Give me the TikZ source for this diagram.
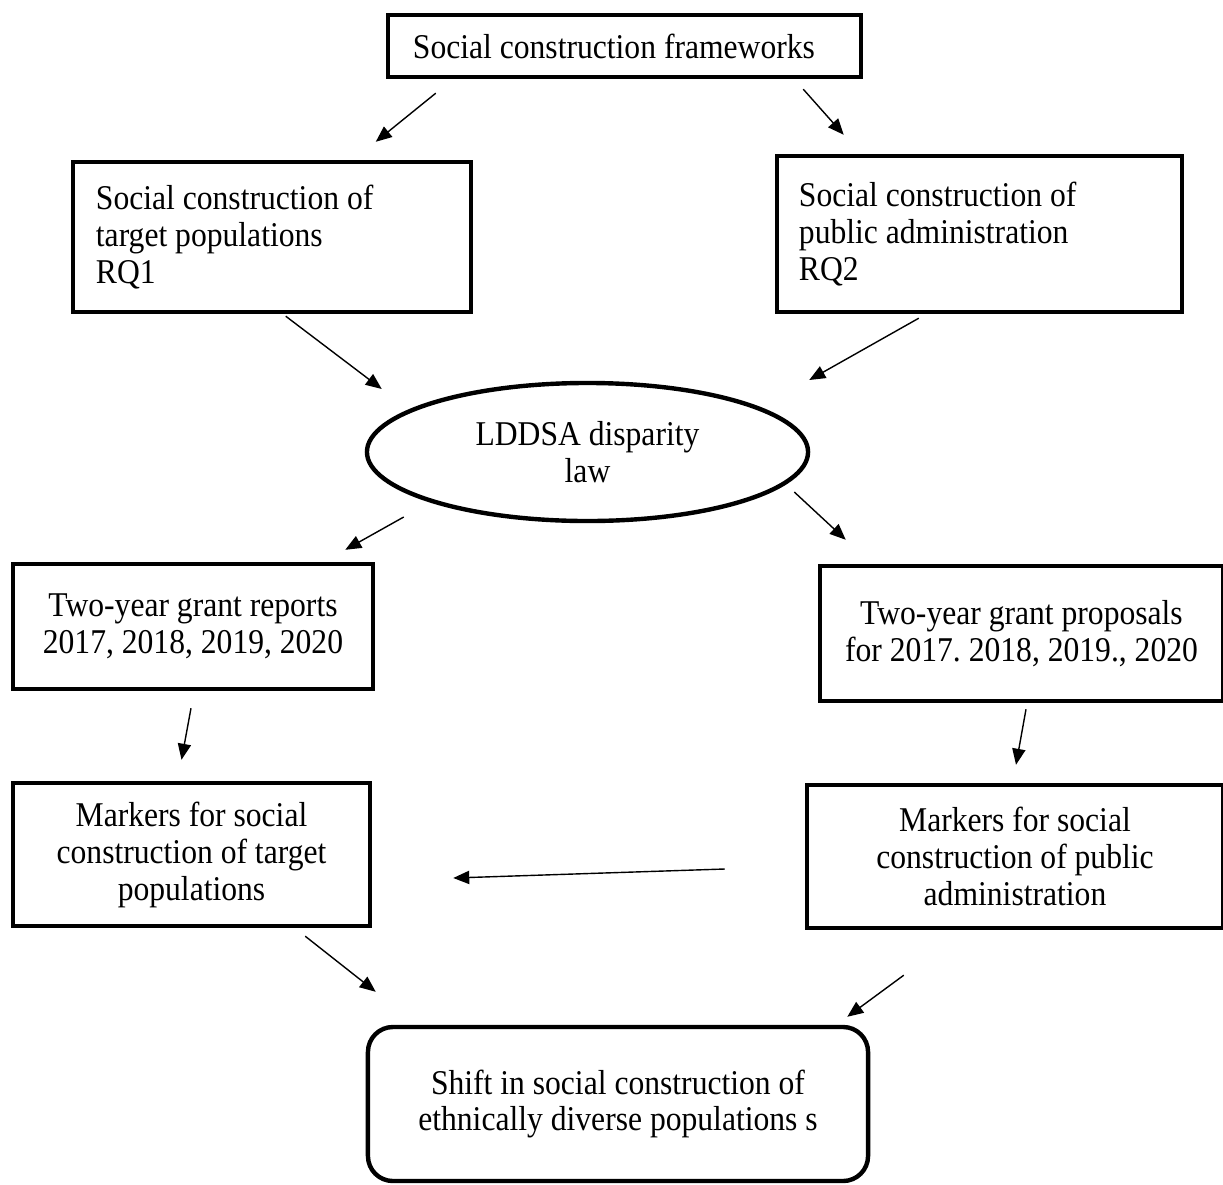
\documentclass[tikz,border=0pt]{standalone}
\usepackage{fontspec}
\setmainfont[FakeStretch=0.91]{Liberation Serif}
\usetikzlibrary{arrows.meta,shapes.geometric}
\newcommand{\labelfont}{\fontsize{24.7pt}{26.3pt}\selectfont}
\frenchspacing

\begin{document}
\begin{tikzpicture}[x=0.025cm, y=-0.025cm,
  box/.style={draw, line width=0.11cm, rectangle, inner sep=0pt, font=\labelfont},
  flow/.style={-{Triangle[length=0.4cm, width=0.33cm]}, line width=0.035cm}]
\useasboundingbox (0,0) rectangle (1223,1184);

% Framework at the top
\node[box, minimum width=11.825cm, minimum height=1.55cm, text width=10.575cm, align=flush left] (frame) at (624.5,46) {Social construction frameworks};

% Research questions
\node[box, minimum width=9.95cm, minimum height=3.75cm, text width=8.8cm, align=flush left] (rq1) at (272,237) {Social construction of\\target populations\\RQ1};
\node[box, minimum width=10.125cm, minimum height=3.9cm, text width=9.025cm, align=flush left] (rq2) at (979.5,234) {Social construction of\\public administration\\RQ2};

% The law
\node[draw, ellipse, line width=0.11cm, inner sep=0pt, minimum width=11.025cm, minimum height=3.45cm, align=center, font=\labelfont] (law) at (587.5,452) {LDDSA disparity\\law};

% Grant documents
\node[box, minimum width=9cm, minimum height=3.125cm, align=center] (reports) at (193,626.5) {Two-year grant reports\\2017, 2018, 2019, 2020};
\node[box, minimum width=10.075cm, minimum height=3.375cm, align=center] (proposals) at (1021.5,633.5) {Two-year grant proposals\\for 2017. 2018, 2019., 2020};

% Markers
\node[box, minimum width=8.925cm, minimum height=3.575cm, align=center] (markersL) at (191.5,854.5) {Markers for social\\construction of target\\populations};
\node[box, minimum width=10.4cm, minimum height=3.575cm, align=center] (markersR) at (1015,856.5) {Markers for social\\construction of public\\administration};

% Outcome
\node[box, rounded corners=0.625cm, minimum width=12.5cm, minimum height=3.85cm, align=center] (shift) at (618,1104) {Shift in social construction of\\ethnically diverse populations s};

% Arrows
\draw[flow] ([shift={(50,14)}]frame.south west) -- ([shift={(305,-18)}]rq1.north west);
\draw[flow] ([shift={(-60,10)}]frame.south east) -- ([shift={(69,-19)}]rq2.north west);
\draw[flow] ([shift={(215,2)}]rq1.south west) -- ([shift={(17,-63)}]law.west);
\draw[flow] ([shift={(144,4)}]rq2.south west) -- ([shift={(-1,-72)}]law.east);
\draw[flow] ([shift={(39,65)}]law.west) -- ([shift={(-30,-12)}]reports.north east);
\draw[flow] ([shift={(-16,40)}]law.east) -- ([shift={(28,-24)}]proposals.north west);
\draw[flow] ([shift={(-2,17)}]reports.south) -- ([shift={(-10,-21)}]markersL.north);
\draw[flow] ([shift={(4.5,6)}]proposals.south) -- ([shift={(1,-18)}]markersR.north);
\draw[flow] ([shift={(-80,12.5)}]markersR.west) -- ([shift={(81,23.5)}]markersL.east);
\draw[flow] ([shift={(-67,8)}]markersL.south east) -- ([shift={(10,-33)}]shift.north west);
\draw[flow] ([shift={(99,45)}]markersR.south west) -- ([shift={(-23,-8)}]shift.north east);

\end{tikzpicture}
\end{document}
